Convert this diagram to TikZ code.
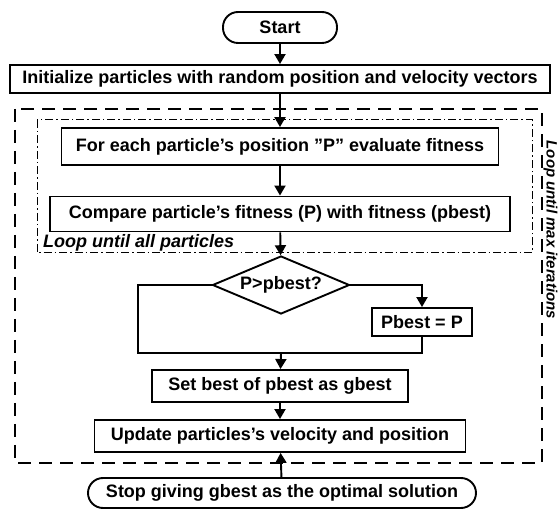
\documentclass[tikz,border=0pt]{standalone}
\usepackage{fontspec}
\setmainfont{Liberation Sans}
\usetikzlibrary{arrows.meta,shapes.geometric}
\begin{document}
\begin{tikzpicture}[x=1pt,y=-1pt,
  every node/.style={font=\fontsize{18}{20}\selectfont\bfseries, inner sep=0pt},
  box/.style={draw, line width=1.9pt, rectangle},
  term/.style={box, rounded corners=15pt},
  conn/.style={line width=1.9pt, -{Triangle[length=10pt,width=11pt]}},
  plain/.style={line width=1.9pt},
  outerloop/.style={line width=2.4pt, dash pattern=on 13pt off 8pt},
  innerloop/.style={line width=1pt, dash pattern=on 8pt off 3pt on 1.5pt off 3pt},
  looplabel/.style={font=\fontsize{18}{20}\selectfont\bfseries\itshape},
  sidelabel/.style={font=\fontsize{15}{17}\selectfont\bfseries\itshape}
]
\useasboundingbox (0,0) rectangle (560,510);
\fill[white] (0,0) rectangle (560,510);
\draw[outerloop] (15,109) rectangle (542,463);
\draw[innerloop] (37,120) rectangle (532,253);
\node[term, minimum width=114pt, minimum height=31pt] (start) at (280,27.5) {Start};
\node[box, minimum width=540pt, minimum height=28pt] (init) at (280,79) {Initialize particles with random position and velocity vectors};
\node[box, minimum width=437pt, minimum height=37pt] (eval) at (280,146.5) {For each particle's position \char"22P\char"22{} evaluate fitness};
\node[box, minimum width=460pt, minimum height=35pt] (cmp) at (280,214) {Compare particle's fitness (P) with fitness (pbest)};
\node[looplabel, anchor=base west] (l1) at (43,248) {Loop until all particles};
\node[diamond, draw, line width=1.9pt, aspect=2.35, minimum width=137pt, minimum height=58pt] (dec) at (281,285) {P>pbest?};
\node[box, minimum width=100pt, minimum height=28pt] (pb) at (422,322) {Pbest = P};
\node[box, minimum width=256pt, minimum height=32pt] (set) at (280,386) {Set best of pbest as gbest};
\node[box, minimum width=371pt, minimum height=32pt] (upd) at (280,436) {Update particles's velocity and position};
\node[term, minimum width=388pt, minimum height=30pt] (stop) at (282,493) {Stop giving gbest as the optimal solution};
\node[sidelabel, rotate=-90, anchor=base] (l2) at (546.5,230) {Loop until max iterations};
\coordinate (mergeL) at (138,353);
\coordinate (merge) at (281,353);
\draw[conn] (start) -- (init);
\draw[conn] (init) -- (eval);
\draw[conn] (eval) -- (cmp);
\draw[conn] (cmp) -- (dec);
\draw[conn] (dec.east) -| (pb.north);
\draw[plain] (dec.west) -| (mergeL) -| (pb.south);
\draw[conn] (merge) -- (set);
\draw[conn] (set) -- (upd);
\draw[conn] (stop) -- (upd);
\end{tikzpicture}
\end{document}
